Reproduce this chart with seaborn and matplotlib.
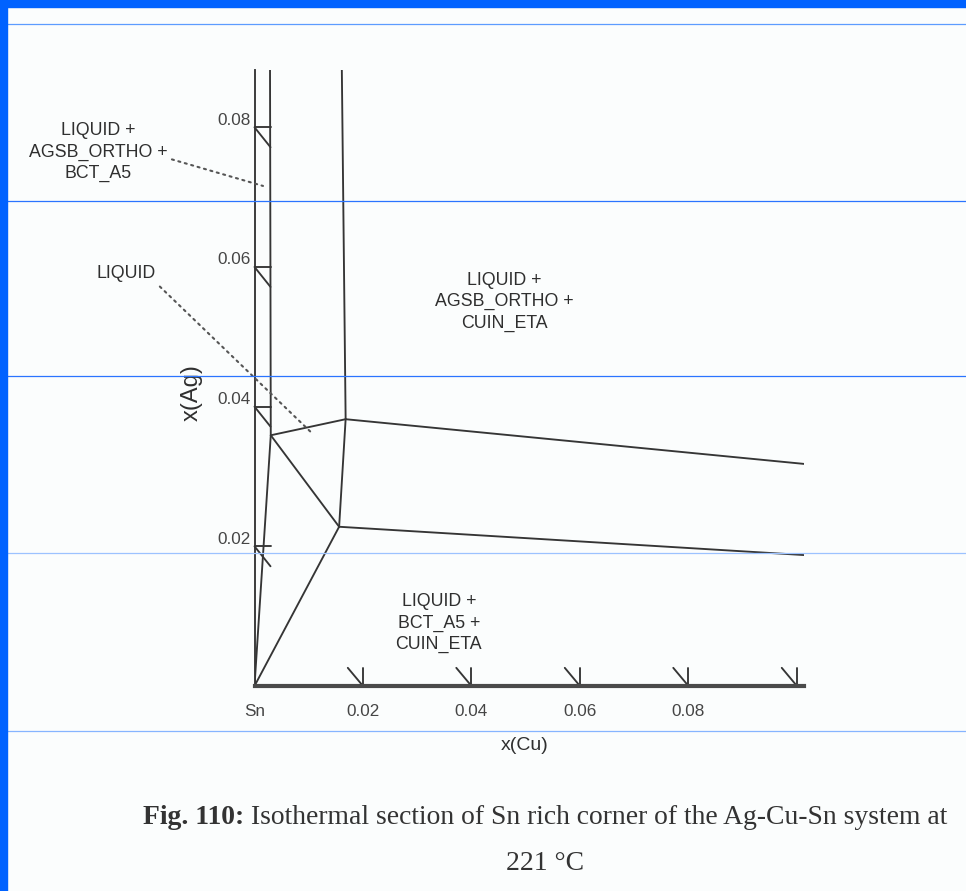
import matplotlib
matplotlib.use("Agg")
import matplotlib.pyplot as plt
import matplotlib.transforms as mtransforms
from matplotlib.lines import Line2D
from matplotlib.patches import Rectangle
import numpy as np
import pandas as pd
import seaborn as sns

# ---------------- data ----------------
boundary_names = ["bct_liq_upper", "bct_liq_lower", "liq_eta_upper", "liq_eta_lower",
                  "a_b", "a_c", "c_sn", "b_right", "c_right"]
boundary_x = [[0.00286, 0.0030], [0.0030, 0.0], [0.0161, 0.0168], [0.0168, 0.0156],
              [0.0030, 0.0168], [0.0030, 0.0156], [0.0156, 0.0], [0.0168, 0.1013],
              [0.0156, 0.1013]]
boundary_y = [[0.0882, 0.0359], [0.0359, 0.0], [0.0882, 0.0382], [0.0382, 0.0228],
              [0.0359, 0.0382], [0.0359, 0.0228], [0.0228, 0.0], [0.0382, 0.0318],
              [0.0228, 0.01875]]

x_limits = [0.0, 0.1013]
y_limits = [0.0, 0.0882]

x_tick_marks = [0.02, 0.04, 0.06, 0.08, 0.10]
x_tick_values = [0.0, 0.02, 0.04, 0.06, 0.08]
x_tick_labels = ["Sn", "0.02", "0.04", "0.06", "0.08"]
y_tick_values = [0.02, 0.04, 0.06, 0.08]
y_tick_labels = ["0.02", "0.04", "0.06", "0.08"]

region_labels = ["LIQUID +\nAGSB_ORTHO +\nCUIN_ETA", "LIQUID +\nBCT_A5 +\nCUIN_ETA"]
region_x = [0.0460, 0.0340]
region_y = [0.0550, 0.00902]

pointer_labels = ["LIQUID +\nAGSB_ORTHO +\nBCT_A5", "LIQUID"]
pointer_text_x = [-0.02885, -0.0237]
pointer_text_y = [0.07645, 0.0590]
pointer_tip_x = [0.00157, 0.0106]
pointer_tip_y = [0.0716, 0.0362]

caption_bold = "Fig. 110:"
caption_rest = " Isothermal section of Sn rich corner of the Ag-Cu-Sn system at"
caption_line2 = "221 °C"

# ---------------- style ----------------
sns.set_theme(style="white")
plt.rcParams["font.family"] = ["Liberation Sans", "DejaVu Sans"]

W, H = 966, 891
fig = plt.figure(figsize=(W / 100, H / 100), dpi=100)
fig.patch.set_facecolor("#fbfdfd")

left_px, right_px, bottom_px, top_px = 254.5, 804.0, 686.0, 70.0
ax = fig.add_axes([left_px / W, 1 - bottom_px / H, (right_px - left_px) / W,
                   (bottom_px - top_px) / H])
ax.set_facecolor("none")

line_col = "#353535"
text_col = "#2f2f2f"

rows = []
for name, xs, ys in zip(boundary_names, boundary_x, boundary_y):
    for i, (xv, yv) in enumerate(zip(xs, ys)):
        rows.append({"boundary": name, "order": i, "x": xv, "y": yv})
df = pd.DataFrame(rows)
sns.lineplot(data=df, x="x", y="y", units="boundary", estimator=None, sort=False,
             color=line_col, linewidth=1.35, ax=ax, legend=False)

ax.set_xlim(*x_limits)
ax.set_ylim(*y_limits)
for s in ["top", "right"]:
    ax.spines[s].set_visible(False)
ax.spines["left"].set_color(line_col)
ax.spines["left"].set_linewidth(1.35)
ax.spines["bottom"].set_color("#4a4a4a")
ax.spines["bottom"].set_linewidth(3.0)
ax.set_xticks([])
ax.set_yticks([])
ax.set_xlabel("")
ax.set_ylabel("")

# custom tick marks (style lengths in data units)
tlx, tly = 0.00295, 0.00286
for t in y_tick_values:
    ax.plot([0, tlx], [t, t], color=line_col, lw=1.35, clip_on=False)
    ax.plot([0, tlx], [t, t - tly], color=line_col, lw=1.35, clip_on=False)
for t in x_tick_marks:
    ax.plot([t, t], [0, 0.0026], color=line_col, lw=1.35, clip_on=False)
    ax.plot([t - 0.0028, t], [0.0026, 0], color=line_col, lw=1.35, clip_on=False)

# tick labels
ytrans = ax.get_yaxis_transform() + mtransforms.ScaledTranslation(-4 / 100, 7 / 100, fig.dpi_scale_trans)
for t, lab in zip(y_tick_values, y_tick_labels):
    ax.text(0, t, lab, transform=ytrans, ha="right", va="center", fontsize=12.3,
            color="#454545")
xtrans = ax.get_xaxis_transform() + mtransforms.ScaledTranslation(0, -26 / 100, fig.dpi_scale_trans)
for t, lab in zip(x_tick_values, x_tick_labels):
    ax.text(t, 0, lab, transform=xtrans, ha="center", va="center", fontsize=12.3,
            color="#454545")

# axis labels
ax.text((525 - left_px) / (right_px - left_px), (bottom_px - 745) / (bottom_px - top_px),
        "x(Cu)", transform=ax.transAxes, ha="center", va="center", fontsize=14,
        color=text_col)
ax.text((192 - left_px) / (right_px - left_px), (bottom_px - 393) / (bottom_px - top_px),
        "x(Ag)", transform=ax.transAxes, ha="center", va="center", fontsize=17,
        rotation=90, color=text_col)

# region labels
for lab, xv, yv in zip(region_labels, region_x, region_y):
    ax.text(xv, yv, lab, ha="center", va="center", fontsize=12.8, linespacing=1.33,
            color=text_col)

# pointer labels
relpos = [(1.0, 0.4), (1.0, 0.0)]
for lab, tx, ty, px, py, rp in zip(pointer_labels, pointer_text_x, pointer_text_y,
                                    pointer_tip_x, pointer_tip_y, relpos):
    ax.annotate(lab, xy=(px, py), xytext=(tx, ty), xycoords="data", textcoords="data",
                ha="center", va="center", fontsize=12.8, linespacing=1.33, color=text_col,
                annotation_clip=False,
                arrowprops=dict(arrowstyle="-", linestyle=(0, (1, 2.2)), color="#555555",
                                lw=1.5, shrinkA=1, shrinkB=0, relpos=rp))

# caption: bold part + regular part, fitted to the reference width and centred
cap_size = 19.5
cap_y = 1 - 818 / H
t_bold = fig.text(0, cap_y, caption_bold, ha="left", va="center", fontsize=cap_size,
                  family="Liberation Serif", weight="bold", color="#333333")
t_rest = fig.text(0, cap_y, caption_rest, ha="left", va="center", fontsize=cap_size,
                  family="Liberation Serif", color="#333333")
renderer = fig.canvas.get_renderer()
wb = t_bold.get_window_extent(renderer).width
wr = t_rest.get_window_extent(renderer).width
target_w = 804.0
scale = target_w / (wb + wr)
t_bold.set_fontsize(cap_size * scale)
t_rest.set_fontsize(cap_size * scale)
wb = t_bold.get_window_extent(renderer).width
wr = t_rest.get_window_extent(renderer).width
x0 = 545 - (wb + wr) / 2
t_bold.set_x(x0 / W)
t_rest.set_x((x0 + wb) / W)
fig.text(545 / W, 1 - 864 / H, caption_line2, ha="center", va="center",
         fontsize=cap_size * scale, family="Liberation Serif", color="#333333")

# blue frame and guide lines
fig.add_artist(Rectangle((0, 1 - 7 / H), 1, 7 / H, transform=fig.transFigure,
                         color="#0062ff", zorder=10))
fig.add_artist(Rectangle((0, 0), 7 / W, 1, transform=fig.transFigure,
                         color="#0062ff", zorder=10))
guide_y = [24, 201, 376, 553, 731]
guide_c = ["#5c9cff", "#2a74ff", "#2a74ff", "#9cc2ff", "#86b4ff"]
for gy, gc in zip(guide_y, guide_c):
    fig.add_artist(Line2D([7 / W, 1], [1 - gy / H, 1 - gy / H], transform=fig.transFigure,
                          color=gc, lw=0.9, zorder=9))

fig.savefig("out.png", dpi=100, facecolor=fig.get_facecolor())
